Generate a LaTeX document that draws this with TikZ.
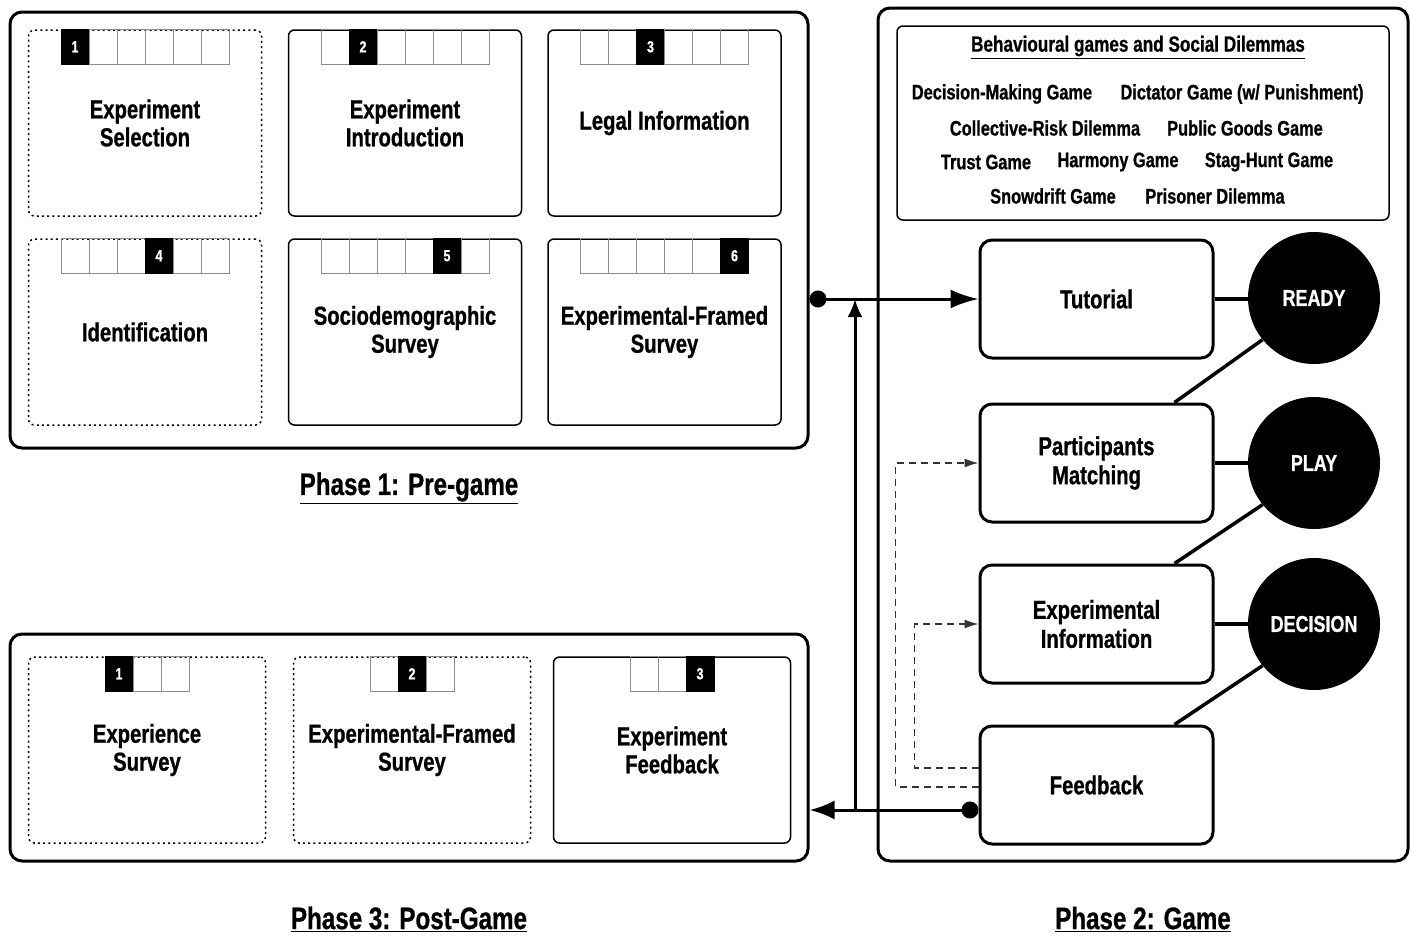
\documentclass[tikz,border=0pt]{standalone}
\usepackage{fontspec}
\setmainfont{Liberation Sans}[FakeStretch=0.78, BoldFeatures={FakeBold=0.8}]
\usetikzlibrary{positioning,arrows.meta}

% progress strip on top of a stage box: node, number of cells, active cell
\newcommand{\stepbar}[3]{%
  \foreach \i in {1,...,#2} {
    \pgfmathsetmacro{\off}{(\i-(#2+1)/2)*28}
    \ifnum\i=#3
      \node[cell, fill=black, draw=black, text=white] at ([xshift=\off pt, yshift=-17.5pt]#1.north) {\i};
    \else
      \node[cell] at ([xshift=\off pt, yshift=-17.5pt]#1.north) {};
    \fi
  }}

\begin{document}
\begin{tikzpicture}[x=1pt, y=-1pt,
phase/.style={draw, line width=3pt, rounded corners=12pt},
stage/.style={draw, line width=1.5pt, rounded corners=6pt, minimum width=233pt, minimum height=186pt, align=center, font=\fontsize{26}{28}\selectfont\bfseries},
optional/.style={stage, dash pattern=on 2pt off 3.2pt},
cell/.style={draw=black!45, line width=0.8pt, minimum width=28pt, minimum height=35pt, inner sep=0pt, font=\fontsize{16}{16}\selectfont\bfseries},
gamestep/.style={draw, line width=3pt, rounded corners=12pt, minimum width=233pt, minimum height=118pt, align=center, font=\fontsize{26}{29}\selectfont\bfseries},
state/.style={circle, fill=black, minimum size=132pt, inner sep=0pt, text=white, font=\fontsize{23}{23}\selectfont\bfseries},
game/.style={font=\fontsize{21}{21}\selectfont\bfseries, inner sep=1pt},
title/.style={font=\fontsize{31}{31}\selectfont\bfseries},
link/.style={line width=3pt},
tie/.style={line width=3.5pt},
back/.style={line width=1.3pt, black!80, dash pattern=on 7pt off 5pt, -{Latex[length=14pt,width=9pt]}}
]
\useasboundingbox (0,0) rectangle (1411,935);

% phase frames
\node[phase, minimum width=798pt, minimum height=436pt] (pre) at (409,230) {};
\node[phase, minimum width=798pt, minimum height=227pt] (post) at (409,747.5) {};
\node[phase, minimum width=530pt, minimum height=853pt] (game) at (1143,434.5) {};

% phase 1
\node[optional] (sel) at (145,123) {Experiment\\Selection};
\node[stage] (intro) at (405,123) {Experiment\\Introduction};
\node[stage] (legal) at (664.5,123) {Legal Information};
\node[optional] (ident) at (145,332) {Identification};
\node[stage] (socio) at (405,332) {Sociodemographic\\Survey};
\node[stage] (frame) at (664.5,332) {Experimental-Framed\\Survey};
\stepbar{sel}{6}{1}
\stepbar{intro}{6}{2}
\stepbar{legal}{6}{3}
\stepbar{ident}{6}{4}
\stepbar{socio}{6}{5}
\stepbar{frame}{6}{6}

% phase 3
\node[optional, minimum width=237pt] (exper) at (147,750) {Experience\\Survey};
\node[optional, minimum width=237pt] (frame3) at (412,750) {Experimental-Framed\\Survey};
\node[stage, minimum width=237pt] (fbk3) at (672,750) {Experiment\\Feedback};
\stepbar{exper}{3}{1}
\stepbar{frame3}{3}{2}
\stepbar{fbk3}{3}{3}

% phase 2
\node[draw, line width=1.5pt, rounded corners=6pt, minimum width=492pt, minimum height=194pt] (games) at (1143,123) {};
\node[game, font=\fontsize{22}{22}\selectfont\bfseries] (gtitle) at (1138,47) {\underline{Behavioural games and Social Dilemmas}};
\node[game] (g1) at (1002,94) {Decision-Making Game};
\node[game] (g2) at (1242,94) {Dictator Game (w/ Punishment)};
\node[game] (g3) at (1045,128) {Collective-Risk Dilemma};
\node[game] (g4) at (1245,128) {Public Goods Game};
\node[game] (g5) at (986,162) {Trust Game};
\node[game] (g6) at (1118,162) {Harmony Game};
\node[game] (g7) at (1269,162) {Stag-Hunt Game};
\node[game] (g8) at (1053,196) {Snowdrift Game};
\node[game] (g9) at (1215,196) {Prisoner Dilemma};

\node[gamestep] (tut) at (1096.5,299) {Tutorial};
\node[gamestep] (match) at (1096.5,463) {Participants\\Matching};
\node[gamestep] (info) at (1096.5,624) {Experimental\\Information};
\node[gamestep] (fb) at (1096.5,785) {Feedback};

\node[state] (ready) at (1314,298) {READY};
\node[state] (play) at (1314,463) {PLAY};
\node[state] (decide) at (1314,624) {DECISION};

\draw[tie] (tut.east) -- (tut.east -| ready.west);
\draw[tie] (match.east) -- (match.east -| play.west);
\draw[tie] (info.east) -- (info.east -| decide.west);
\draw[tie] (ready.-141) -- ([xshift=78pt]match.north);
\draw[tie] (play.-141) -- ([xshift=78pt]info.north);
\draw[tie] (decide.-141) -- ([xshift=78pt]fb.north);

% flow between phases
\draw[link, {Circle[length=17pt]}-{Latex[length=28pt,width=19pt]}] (pre.east |- tut.west) -- (tut.west);
\draw[link, {Circle[length=17pt]}-{Latex[length=25pt,width=19pt]}] ([yshift=-25pt]fb.west) -- ([yshift=-25pt]fb.west -| post.east);
\coordinate (rise) at (855,810);
\draw[link, -{Latex[length=18pt,width=15pt]}] (rise) -- (rise |- tut.west);

% repeat loops
\draw[back] ([yshift=-2pt]fb.west) -| ([xshift=-83pt]match.west) -- (match.west);
\draw[back] ([yshift=17pt]fb.west) -| ([xshift=-64pt]info.west) -- (info.west);

% phase titles
\node[title] (t1) at (409,488) {\underline{Phase 1: Pre-game}};
\node[title] (t3) at (409,919) {\underline{Phase 3: Post-Game}};
\node[title] (t2) at (1143,919) {\underline{Phase 2: Game}};
\end{tikzpicture}
\end{document}
